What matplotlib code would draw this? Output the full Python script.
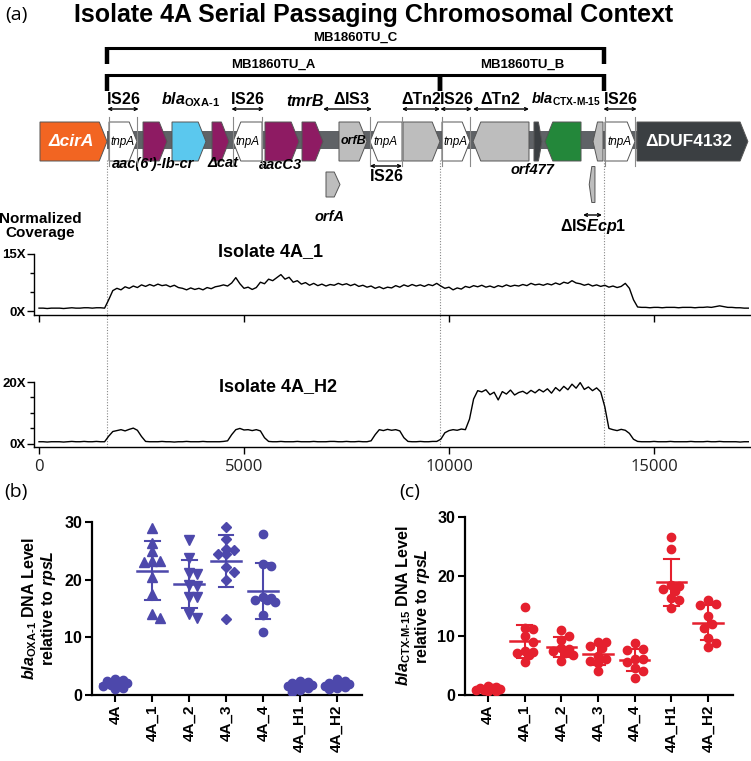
import numpy as np
import matplotlib
matplotlib.use('Agg')
import matplotlib.pyplot as plt
from matplotlib.patches import Polygon, Rectangle
from matplotlib import font_manager

avail = {f.name for f in font_manager.fontManager.ttflist}
SANS = 'Liberation Sans' if 'Liberation Sans' in avail else 'DejaVu Sans'
NARROW = 'Liberation Sans Narrow' if 'Liberation Sans Narrow' in avail else SANS
LIGHT = 'Open Sans' if 'Open Sans' in avail else 'DejaVu Sans'

plt.rcParams['font.family'] = [SANS, 'DejaVu Sans']
plt.rcParams['mathtext.fontset'] = 'custom'
plt.rcParams['mathtext.rm'] = f'{SANS}:bold'
plt.rcParams['mathtext.it'] = f'{SANS}:italic:bold'
plt.rcParams['mathtext.bf'] = f'{SANS}:bold'

# ---------------- DATA ----------------
# gene map (bp)
gene_names = ['ΔcirA', 'tnpA', 'aac', 'blaOXA', 'cat', 'tnpA', 'aacC3', 'tmrB', 'orfB',
              'tnpA', 'Tn2a', 'tnpA', 'Tn2b', 'orf477', 'blaCTX', 'ISEcp1a', 'tnpA', 'ΔDUF4132']
gene_start = [24, 1707, 2537, 3244, 4220, 4732, 5512, 6415, 7317,
              8073, 8878, 9829, 10585, 12073, 12341, 13512, 13805, 14585]
gene_end = [1660, 2390, 3122, 4073, 4634, 5439, 6341, 6927, 8000,
            8854, 9780, 10512, 11951, 12268, 13220, 13756, 14537, 17290]
gene_strand = [1, 1, 1, 1, 1, -1, 1, 1, 1, -1, 1, 1, -1, 1, -1, -1, 1, 1]
gene_color = ['#f26522', '#ffffff', '#8e1b63', '#5bc8ee', '#8e1b63', '#ffffff', '#8e1b63',
              '#8e1b63', '#bdbdbd', '#ffffff', '#bdbdbd', '#ffffff', '#bdbdbd', '#3b3f42',
              '#23873a', '#bdbdbd', '#ffffff', '#3b3f42']
backbone = (1660, 14585)
orfA_gene = (7000, 7341)
isecp1_gene = (13420, 13560)
boundaries = [1660, 9780, 13780]
brackets = [('MB1860TU_C', 1660, 13780, 0), ('MB1860TU_A', 1660, 9780, 1), ('MB1860TU_B', 9780, 13780, 1)]

# coverage (100 bp bins starting at 0)
cov_step = 100
cov_4A_1 = ([0.8, 0.8, 0.7, 0.8, 0.8, 0.8, 0.7, 0.8, 0.9, 0.8, 0.8, 0.9, 0.9, 0.8, 0.9, 0.9, 0.8]
            + [3.0, 5.4, 6.0, 5.6, 6.4, 6.0, 6.6, 6.2, 6.9, 6.5, 7.0, 6.6, 7.1, 6.7, 6.9, 6.4, 6.8, 6.2,
               6.0, 5.6, 6.1, 5.7, 6.0, 5.6, 6.2, 5.9, 6.4, 6.6, 6.9]
            + [6.6, 7.4, 8.8, 7.2, 6.0, 6.3, 5.7, 6.2, 7.6, 7.2, 8.4, 8.0, 8.8, 9.6, 8.4, 8.9, 7.6, 8.0, 7.1, 7.5]
            + [6.8, 7.3, 6.7, 7.1, 6.6, 7.0, 6.8, 7.3, 6.9, 7.2, 6.7, 7.1, 6.5, 6.8, 6.3, 6.6, 6.0, 6.4, 5.9, 6.3,
               6.1, 6.7, 6.3, 6.9, 6.5, 7.0, 6.6, 6.9, 6.5, 7.0, 6.7, 7.3]
            + [6.6, 6.0, 6.3, 5.6, 6.1, 5.8, 6.5, 6.2, 6.7, 6.4, 6.8, 6.3, 6.6, 6.2, 6.7, 6.4, 6.9, 6.5, 6.8, 6.6,
               7.0, 6.7, 7.3, 6.9, 7.1, 6.8, 7.2, 6.9, 7.4, 7.0, 7.6, 7.3]
            + [8.0, 7.4, 7.2, 6.8, 7.1, 6.6, 6.9, 6.5, 6.8, 6.3, 6.6, 6.2, 6.5, 7.3, 6.0, 3.0]
            + [1.1, 1.0, 1.0, 0.9, 1.0, 1.0, 0.9, 1.0, 1.0, 1.0, 0.9, 1.0, 1.0, 1.0, 0.9, 1.0, 1.0, 1.1, 1.0, 1.2,
               1.4, 1.2, 1.0, 1.0, 0.9, 0.9, 0.8, 0.8])
cov_4A_H2 = ([0.7, 0.7, 0.6, 0.7, 0.7, 0.7, 0.6, 0.7, 0.8, 0.7, 0.7, 0.8, 0.7, 0.7, 0.8, 0.7, 0.7]
             + [2.5, 4.0, 4.3, 4.6, 4.2, 4.7, 5.1, 4.4, 2.4]
             + [0.8, 0.7, 0.7, 0.7, 0.8, 0.7, 0.7, 0.6, 0.7, 0.7, 0.8, 0.7, 0.7, 0.7, 0.8, 0.7, 0.7, 0.7, 0.7, 0.8, 1.0]
             + [3.0, 4.6, 5.0, 4.5, 4.6, 4.3, 4.6, 4.2, 2.0]
             + [0.8, 0.7, 0.7, 0.8, 0.7, 0.7, 0.7, 0.8, 0.7, 0.7, 0.7, 0.8, 0.7, 0.7, 0.7, 0.8, 0.8, 0.7, 0.7, 0.8,
                0.7, 0.7, 0.8, 0.7, 0.7, 1.0]
             + [3.0, 4.6, 4.3, 4.7, 4.4, 4.6, 4.2, 2.0]
             + [0.8, 0.7, 0.7, 0.8, 0.7, 0.7, 0.8, 0.8]
             + [1.5, 3.6, 4.3, 4.6, 4.4, 4.8, 4.6]
             + [8.0, 14.5, 17.2, 16.8, 17.5, 15.9, 16.7, 14.2, 16.9, 16.1, 17.4, 15.8, 16.6, 17.0, 16.2, 17.3,
                16.5, 17.6, 16.8, 17.8, 16.4, 18.2, 17.1, 18.6, 17.5, 19.3, 18.0, 19.8, 17.6, 18.4, 17.2, 18.1, 16.8]
             + [12.0, 5.0, 4.6, 4.3, 4.7, 4.4, 3.4, 1.5]
             + [0.8, 0.7, 0.7, 0.7, 0.8, 0.7, 0.7, 0.7, 0.8, 0.7, 0.7, 0.7, 0.7, 0.8, 0.7, 0.7, 0.7, 0.8, 0.7, 0.7,
                0.8, 0.7, 0.7, 0.7, 0.7, 0.6, 0.7, 0.7])
cov_xticks = [0, 5000, 10000, 15000]

# qPCR panels
categories = ['4A', '4A_1', '4A_2', '4A_3', '4A_4', '4A_H1', '4A_H2']
oxa_values = [
    [2.5, 2.8, 2.2, 1.8, 1.5, 1.2, 2.0, 2.6, 1.0],
    [29.0, 26.4, 25.0, 23.3, 23.3, 23.0, 20.5, 17.6, 14.0, 13.4],
    [26.8, 23.7, 21.1, 20.9, 19.1, 18.9, 17.0, 17.0, 14.0, 13.4],
    [29.1, 27.1, 25.4, 25.1, 24.5, 24.4, 22.2, 21.4, 19.9, 13.1],
    [27.9, 22.7, 22.3, 17.0, 16.9, 16.5, 16.5, 16.2, 13.9, 11.0],
    [2.5, 2.2, 2.0, 1.8, 1.6, 1.5, 1.2, 0.8, 0.5, 1.9],
    [2.8, 2.4, 2.1, 1.9, 1.8, 1.6, 1.4, 1.2, 1.0, 2.0],
]
oxa_markers = ['o', '^', 'v', 'D', 'o', 'o', 'o']
ctx_values = [
    [1.5, 1.3, 1.1, 1.0, 0.9, 0.8, 0.7, 0.6, 1.2],
    [14.8, 11.3, 11.1, 9.9, 9.0, 7.4, 7.2, 7.1, 6.8, 5.6],
    [11.0, 10.0, 9.3, 7.9, 7.8, 7.4, 7.1, 6.8, 5.7],
    [9.0, 8.9, 8.2, 7.9, 6.5, 6.1, 5.7, 5.4, 4.0],
    [8.7, 7.8, 7.6, 6.1, 6.0, 5.5, 4.6, 4.0, 2.9],
    [26.6, 24.6, 18.6, 18.4, 17.9, 17.6, 16.3, 16.0, 14.7],
    [16.0, 15.4, 15.2, 13.3, 12.0, 11.3, 9.6, 8.8, 8.1],
]
OXA_COLOR = '#4d48ab'
CTX_COLOR = '#e5202e'

# ---------------- FIGURE ----------------
W, H = 751, 761
fig = plt.figure(figsize=(W / 100, H / 100), dpi=100)


def px_axes(x0, y0, x1, y1):
    return fig.add_axes([x0 / W, 1 - y1 / H, (x1 - x0) / W, (y1 - y0) / H])


XMIN, XMAX = -122, 17366
MAP_BOTTOM = 447

# map axes (y in pixel units, inverted)
mx = px_axes(34, 0, 751, MAP_BOTTOM)
mx.set_xlim(XMIN, XMAX)
mx.set_ylim(MAP_BOTTOM, 0)
mx.axis('off')
mx.patch.set_alpha(0)


def arrow_patch(s, e, strand, yc, h, head, fc, ec='#555555', lw=0.7, z=3):
    hd = min(head, (e - s) * 0.45)
    if strand > 0:
        pts = [(s, yc - h / 2), (e - hd, yc - h / 2), (e, yc), (e - hd, yc + h / 2), (s, yc + h / 2)]
    else:
        pts = [(e, yc - h / 2), (s + hd, yc - h / 2), (s, yc), (s + hd, yc + h / 2), (e, yc + h / 2)]
    return Polygon(pts, closed=True, fc=fc, ec=ec, lw=lw, zorder=z)


GY, GH = 141.5, 39
mx.add_patch(Rectangle((backbone[0], 131), backbone[1] - backbone[0], 18, fc='#5f6266', ec='none', zorder=2))
for s, e, st, c in zip(gene_start, gene_end, gene_strand, gene_color):
    mx.add_patch(arrow_patch(s, e, st, GY, GH, 190, c))
    if c == '#ffffff':
        for xb in (s, e):
            mx.plot([xb, xb], [GY - GH / 2 - 5, GY + GH / 2 + 5], color='#8a8a8a', lw=0.8, zorder=4)
mx.add_patch(arrow_patch(orfA_gene[0], orfA_gene[1], 1, 184.5, 25, 140, '#bdbdbd'))
mx.add_patch(arrow_patch(isecp1_gene[0], isecp1_gene[1], -1, 184.5, 36, 80, '#bdbdbd'))

# inner gene labels
for s, e, n, c in zip(gene_start, gene_end, gene_names, gene_color):
    xc = (s + e) / 2
    if n == 'tnpA':
        mx.text(xc, GY, 'tnpA', ha='center', va='center', fontsize=8.5, style='italic', zorder=6)
    elif n == 'orfB':
        mx.text(xc, GY, 'orfB', ha='center', va='center', fontsize=9, style='italic', weight='bold', zorder=6)
    elif n == 'ΔcirA':
        mx.text(xc - 60, GY, 'ΔcirA', ha='center', va='center', fontsize=12.5, style='italic',
                weight='bold', color='white', zorder=6)
    elif n == 'ΔDUF4132':
        mx.text(xc - 100, GY, 'ΔDUF4132', ha='center', va='center', fontsize=12.5,
                weight='bold', color='white', zorder=6)


def span(x0, x1, y):
    mx.annotate('', xy=(x1, y), xytext=(x0, y),
                arrowprops=dict(arrowstyle='<->', lw=1.0, color='k', shrinkA=0, shrinkB=0,
                                mutation_scale=5), zorder=6)


IS26 = r'IS$\mathit{26}$'
FS_LAB = 11.5
# labels above
for i in (1, 5, 11, 16):
    s, e = gene_start[i], gene_end[i]
    mx.text((s + e) / 2, 104, IS26, ha='center', va='baseline', fontsize=FS_LAB, weight='bold')
    span(s - 40, e + 40, 109)
mx.text(3700, 104, r'$\mathit{bla}_{\text{OXA-1}}$', ha='center', va='baseline', fontsize=FS_LAB)
mx.text(6490, 106, 'tmrB', ha='center', va='baseline', fontsize=FS_LAB, style='italic', weight='bold')
mx.text(7620, 104, r'ΔIS$\mathit{3}$', ha='center', va='baseline', fontsize=FS_LAB, weight='bold')
span(6930, 8120, 109)
mx.text(9320, 104, 'ΔTn2', ha='center', va='baseline', fontsize=FS_LAB, weight='bold')
span(8854, 9780, 109)
mx.text(11250, 104, 'ΔTn2', ha='center', va='baseline', fontsize=FS_LAB, weight='bold')
span(10585, 11951, 109)
mx.text(12010, 104, r'$\mathit{bla}_{\text{CTX-M-15}}$', ha='left', va='baseline', fontsize=10.5)
# labels below
mx.text(2780, 164, "aac(6')-Ib-cr", ha='center', va='center', fontsize=10.5, style='italic', weight='bold')
mx.text(4480, 163, 'Δcat', ha='center', va='center', fontsize=10.5, style='italic', weight='bold')
mx.text(5900, 165, 'aacC3', ha='center', va='center', fontsize=10.5, style='italic', weight='bold')
mx.text(7100, 217, 'orfA', ha='center', va='center', fontsize=10.5, style='italic', weight='bold')
span(gene_start[9], gene_end[9], 166)
mx.text(8470, 176, IS26, ha='center', va='center', fontsize=FS_LAB, weight='bold')
mx.text(12030, 170, 'orf477', ha='center', va='center', fontsize=10.5, style='italic', weight='bold')
span(13270, 13730, 215)
mx.text(13510, 226, r'ΔIS$\mathit{Ecp1}$', ha='center', va='center', fontsize=FS_LAB, weight='bold')

# brackets
for name, x0, x1, lvl in brackets:
    yh = 48 if lvl == 0 else 75
    mx.plot([x0, x1], [yh, yh], color='k', lw=2.2, solid_capstyle='butt', zorder=5)
    for xb in (x0, x1):
        mx.plot([xb, xb], [yh - 1, yh + 16], color='k', lw=3.2, solid_capstyle='butt', zorder=5)
    mx.text((x0 + x1) / 2, yh - 10, name, ha='center', va='center', fontsize=9.5, weight='bold')

# dotted boundaries
for xb in boundaries:
    mx.plot([xb, xb], [160, MAP_BOTTOM], color='#888888', lw=0.8, ls=(0, (1, 1.5)), zorder=1)


# coverage tracks
def cov_axes(ax, vals, ytop, major, minor, labels):
    x = np.arange(len(vals)) * cov_step
    ax.plot(x, vals, color='k', lw=1.0)
    ax.set_xlim(XMIN, XMAX)
    ax.set_ylim(-1, ytop)
    ax.patch.set_alpha(0)
    for sp in ('top', 'right'):
        ax.spines[sp].set_visible(False)
    ax.spines['left'].set_linewidth(1.0)
    ax.spines['bottom'].set_linewidth(1.0)
    ax.set_yticks(major)
    ax.set_yticklabels([f'{m}X' for m in major], fontsize=9.5, weight='bold', family=NARROW)
    ax.set_yticks(minor, minor=True)
    ax.tick_params(axis='y', which='major', length=5, width=1, pad=1)
    ax.tick_params(axis='y', which='minor', length=3, width=1)
    ax.set_xticks(cov_xticks)
    ax.tick_params(axis='x', length=5, width=1)
    if labels:
        ax.set_xticklabels([str(t) for t in cov_xticks], fontsize=12, family=LIGHT, color='#222222')
    else:
        ax.set_xticklabels([])


c1 = px_axes(34, 254, 751, 315)
cov_axes(c1, cov_4A_1, 15, [0, 15], [5, 10], False)
c2 = px_axes(34, 382, 751, 447)
cov_axes(c2, cov_4A_H2, 20, [0, 20], [5, 10, 15], True)

fig.text(270 / W, 1 - 252 / H, 'Isolate 4A_1', ha='center', va='center', fontsize=13, weight='bold', family=NARROW)
fig.text(278 / W, 1 - 387 / H, 'Isolate 4A_H2', ha='center', va='center', fontsize=13, weight='bold', family=NARROW)
fig.text(40 / W, 1 - 226 / H, 'Normalized\nCoverage', ha='center', va='center', fontsize=11, weight='bold',
         linespacing=1.05)

# title and panel letters
fig.text(374 / W, 1 - 15 / H, 'Isolate 4A Serial Passaging Chromosomal Context', ha='center', va='center',
         fontsize=18, weight='bold')
fig.text(16 / W, 1 - 15 / H, '(a)', ha='center', va='center', fontsize=14, family=LIGHT)
fig.text(16 / W, 1 - 492 / H, '(b)', ha='center', va='center', fontsize=14, family=LIGHT)
fig.text(410 / W, 1 - 492 / H, '(c)', ha='center', va='center', fontsize=14, family=LIGHT)


# scatter panels
def swarm(vals, ppu_y, ppu_x, diam, step=4.0, nmax=3):
    vals = np.asarray(vals, float)
    order = np.argsort(vals)[::-1]
    placed = []
    offs = np.zeros(len(vals))
    cands = [0.0]
    for j in range(1, nmax + 1):
        cands += [j * step, -j * step]
    for i in order:
        y = vals[i] * ppu_y
        best, bestd = 0.0, -1.0
        for c in cands:
            d = min([np.hypot(c - a, y - b) for a, b in placed] or [1e9])
            if d >= diam:
                best = c
                break
            if d > bestd:
                best, bestd = c, d
        offs[i] = best / ppu_x
        placed.append((best, y))
    return offs


def dot_panel(ax, data, markers, color, ylabel, ppu_x, ppu_y):
    for i, (vals, m) in enumerate(zip(data, markers)):
        vals = np.asarray(vals, float)
        offs = swarm(vals, ppu_y, ppu_x, 8.0)
        ms = 6.5 if m in ('^', 'v') else (5 if m == 'D' else 6)
        ax.plot(i + offs, vals, ls='none', marker=m, ms=ms, color=color, mec=color, zorder=3)
        mu, sd = vals.mean(), vals.std(ddof=1)
        ax.plot([i - 0.4, i + 0.4], [mu, mu], color=color, lw=1.8, zorder=4)
        ax.plot([i, i], [mu - sd, mu + sd], color=color, lw=1.5, zorder=4)
        for yb in (mu - sd, mu + sd):
            ax.plot([i - 0.2, i + 0.2], [yb, yb], color=color, lw=1.5, zorder=4)
    ax.set_xlim(-0.63, 6.68)
    ax.set_ylim(0, 30)
    for sp in ('top', 'right'):
        ax.spines[sp].set_visible(False)
    for sp in ('left', 'bottom'):
        ax.spines[sp].set_linewidth(1.6)
    ax.set_yticks([0, 10, 20, 30])
    ax.set_yticklabels(['0', '10', '20', '30'], fontsize=11.5, weight='bold')
    ax.set_xticks(range(len(categories)))
    ax.set_xticklabels(categories, rotation=90, fontsize=11, weight='bold')
    ax.tick_params(length=5, width=1.5, pad=2)
    ax.set_ylabel(ylabel, fontsize=11.5, weight='bold', linespacing=1.0)
    ax.yaxis.set_label_coords(-0.125, 0.5)


axb = px_axes(92, 522, 362, 695)
dot_panel(axb, oxa_values, oxa_markers, OXA_COLOR,
          r'$\mathit{bla}_{\text{OXA-1}}$ DNA Level' + '\n' + r'relative to $\mathit{rpsL}$', 37, 5.77)
axc = px_axes(465, 517, 733, 695)
dot_panel(axc, ctx_values, ['o'] * 7, CTX_COLOR,
          r'$\mathit{bla}_{\text{CTX-M-15}}$ DNA Level' + '\n' + r'relative to $\mathit{rpsL}$', 36.7, 5.93)

fig.savefig('out.png', dpi=100)
